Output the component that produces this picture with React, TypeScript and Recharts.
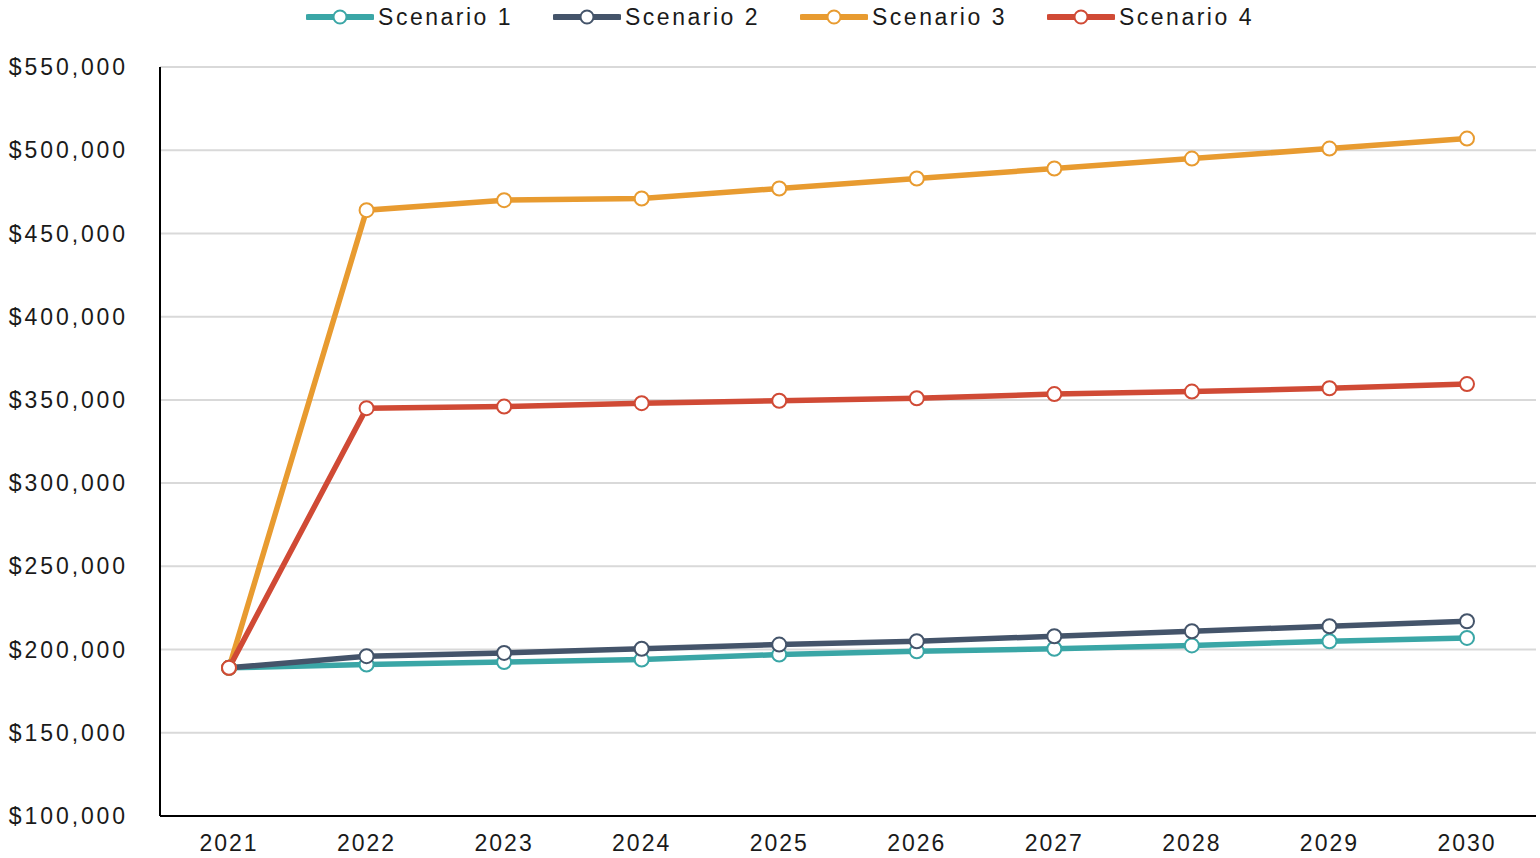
import { LineChart, Line, XAxis, YAxis, CartesianGrid, Legend } from 'recharts';

const years = ['2021', '2022', '2023', '2024', '2025', '2026', '2027', '2028', '2029', '2030'];
const scenario1 = [189000, 191000, 192500, 194000, 197000, 199000, 200500, 202500, 205000, 207000];
const scenario2 = [189000, 196000, 198000, 200500, 203000, 205000, 208000, 211000, 214000, 217000];
const scenario3 = [189000, 464000, 470000, 471000, 477000, 483000, 489000, 495000, 501000, 507000];
const scenario4 = [189000, 345000, 346000, 348000, 349500, 351000, 353500, 355000, 357000, 359500];
const yTicks = [100000, 150000, 200000, 250000, 300000, 350000, 400000, 450000, 500000, 550000];

const series = [
  { key: 's1', name: 'Scenario 1', color: '#3aa6a6' },
  { key: 's2', name: 'Scenario 2', color: '#44546a' },
  { key: 's3', name: 'Scenario 3', color: '#e89b30' },
  { key: 's4', name: 'Scenario 4', color: '#d04a35' },
];

const data = years.map((year, i) => ({
  year,
  s1: scenario1[i],
  s2: scenario2[i],
  s3: scenario3[i],
  s4: scenario4[i],
}));

const font = '"Liberation Sans", Arial, sans-serif';

const LegendContent = () => (
  <div style={{ display: 'flex', justifyContent: 'center', height: 34, alignItems: 'center', paddingLeft: 20 }}>
    {series.map((s, i) => (
      <div
        key={s.key}
        style={{ display: 'flex', alignItems: 'center', marginLeft: i === 0 ? 0 : 40 }}
      >
        <svg width={68} height={18} style={{ marginRight: 4 }}>
          <line x1={2} y1={9} x2={66} y2={9} stroke={s.color} strokeWidth={6} strokeLinecap="round" />
          <circle cx={34} cy={9} r={6.5} fill="#fff" stroke={s.color} strokeWidth={2} />
        </svg>
        <span style={{ fontFamily: font, fontSize: 23, letterSpacing: 2.5, color: '#1a1a1a' }}>
          {s.name}
        </span>
      </div>
    ))}
  </div>
);

const App = () => {
  return (
    <div style={{ position: 'absolute', left: 0, top: 0, background: '#fff' }}>
      <LineChart width={1540} height={858} data={data} margin={{ top: 33, right: 4, bottom: 0, left: 0 }}>
        <CartesianGrid vertical={false} stroke="#d9d9d9" strokeWidth={2} />
        <XAxis
          dataKey="year"
          height={42}
          padding={{ left: 69, right: 69 }}
          axisLine={{ stroke: '#000', strokeWidth: 2 }}
          tickLine={false}
          tickSize={0}
          tickMargin={19}
          tick={{ fill: '#1a1a1a', fontSize: 23, fontFamily: font, letterSpacing: 2 }}
        />
        <YAxis
          width={160}
          domain={[100000, 550000]}
          ticks={yTicks}
          axisLine={{ stroke: '#000', strokeWidth: 2 }}
          tickLine={false}
          tickSize={0}
          tickMargin={32}
          tick={{ fill: '#1a1a1a', fontSize: 23, fontFamily: font, letterSpacing: 2.9 }}
          tickFormatter={(v: number) => `$${v.toLocaleString('en-US')}`}
        />
        <Legend
          verticalAlign="top"
          height={34}
          content={<LegendContent />}
          wrapperStyle={{ top: 0, left: 0, width: 1540 }}
        />
        {series.map(s => (
          <Line
            key={s.key}
            type="linear"
            dataKey={s.key}
            name={s.name}
            stroke={s.color}
            strokeWidth={5.5}
            dot={{ r: 7, fill: '#fff', stroke: s.color, strokeWidth: 2 }}
            isAnimationActive={false}
          />
        ))}
      </LineChart>
    </div>
  );
};

export default App;
